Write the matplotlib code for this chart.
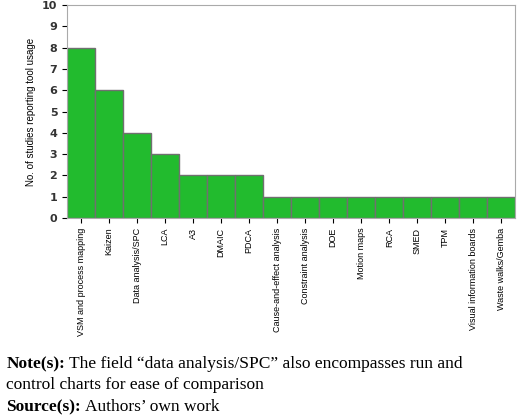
import matplotlib.pyplot as plt

tools = ["VSM and process mapping", "Kaizen", "Data analysis/SPC", "LCA", "A3", "DMAIC", "PDCA",
         "Cause-and-effect analysis", "Constraint analysis", "DOE", "Motion maps", "RCA", "SMED",
         "TPM", "Visual information boards", "Waste walks/Gemba"]
counts = [8, 6, 4, 3, 2, 2, 2, 1, 1, 1, 1, 1, 1, 1, 1, 1]

fig = plt.figure(figsize=(5.2, 4.2), dpi=100)
ax = fig.add_axes([0.129, 0.481, 0.862, 0.507])
ax.bar(range(len(tools)), counts, width=1.0, color="#22bb2e", edgecolor="#707070", linewidth=1)
ax.set_xlim(-0.5, len(tools) - 0.5)
ax.set_ylim(0, 10)
ax.set_yticks(range(11))
ax.set_yticklabels([str(i) for i in range(11)], fontweight="bold", fontsize=8, color="#333333")
ax.set_xticks(range(len(tools)))
ax.set_xticklabels(tools, rotation=90, fontsize=6.5, fontfamily="Liberation Sans")
ax.set_ylabel("No. of studies reporting tool usage", fontsize=7, fontfamily="Liberation Sans")
for s in ax.spines.values():
    s.set_color("#aaaaaa")

serif = "Liberation Serif"
fs = 12.5
fig.canvas.draw()
r = fig.canvas.get_renderer()

def line(y, bold, rest):
    t = fig.text(0.012, y, bold, fontsize=fs, fontweight="bold", fontfamily=serif, va="baseline")
    w = t.get_window_extent(r).width / fig.bbox.width
    fig.text(0.012 + w + 0.008, y, rest, fontsize=fs, fontfamily=serif, va="baseline")

line(1 - 368 / 420, "Note(s):", "The field \u201cdata analysis/SPC\u201d also encompasses run and")
fig.text(0.012, 1 - 389 / 420, "control charts for ease of comparison", fontsize=fs, fontfamily=serif, va="baseline")
line(1 - 411 / 420, "Source(s):", "Authors\u2019 own work")

fig.savefig("out.png")
